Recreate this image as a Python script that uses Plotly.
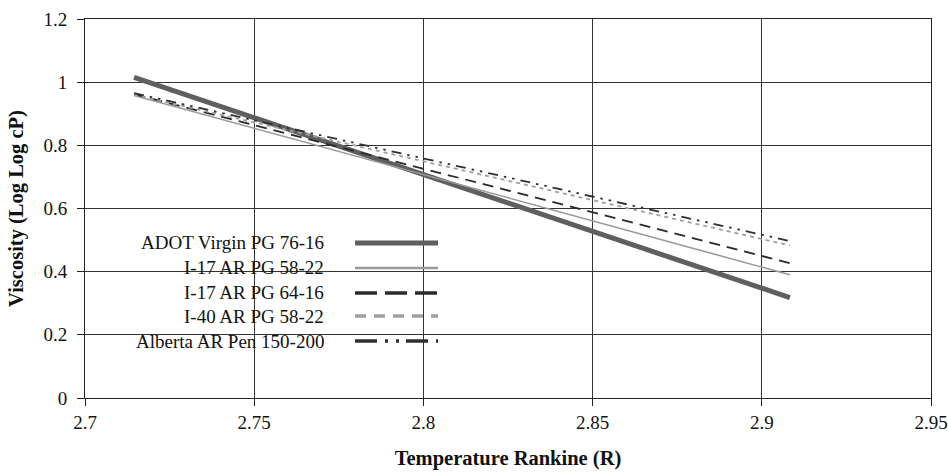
import plotly.graph_objects as go

# Temperature axis: log10 of Rankine temperature at the two ends of each fitted line
log_temp_rankine = [2.7145, 2.9083]

series_names = [
    "ADOT Virgin PG 76-16",
    "I-17 AR PG 58-22",
    "I-17 AR PG 64-16",
    "I-40 AR PG 58-22",
    "Alberta AR Pen 150-200",
]

# Viscosity (log log cP) at the two temperatures
adot_virgin_pg_76_16 = [1.015, 0.318]
i17_ar_pg_58_22 = [0.958, 0.390]
i17_ar_pg_64_16 = [0.962, 0.427]
i40_ar_pg_58_22 = [0.960, 0.483]
alberta_ar_pen_150_200 = [0.965, 0.497]

series_values = [
    adot_virgin_pg_76_16,
    i17_ar_pg_58_22,
    i17_ar_pg_64_16,
    i40_ar_pg_58_22,
    alberta_ar_pen_150_200,
]

x_ticks = [2.7, 2.75, 2.8, 2.85, 2.9, 2.95]
y_ticks = [0, 0.2, 0.4, 0.6, 0.8, 1.0, 1.2]

# line styles in the plot and in the hand-built key
plot_styles = [
    dict(color="#5f5f5f", width=5, dash="solid"),
    dict(color="#9a9a9a", width=1.6, dash="solid"),
    dict(color="#2a2a2a", width=1.8, dash="11px,7px"),
    dict(color="#a0a0a0", width=1.8, dash="4px,4px"),
    dict(color="#303030", width=1.8, dash="10px,6px,2.5px,6px,2.5px,6px"),
]
key_styles = [
    dict(color="#5f5f5f", width=5, dash="solid"),
    dict(color="#9a9a9a", width=2.5, dash="solid"),
    dict(color="#2a2a2a", width=3.5, dash="22px,8px"),
    dict(color="#a0a0a0", width=3.5, dash="11px,8px"),
    dict(color="#303030", width=3.5, dash="22px,8px,3px,8px,3px,7px"),
]

W, H = 948, 472
ML, MR, MT, MB = 85, 17, 19, 74
PW, PH = W - ML - MR, H - MT - MB
FONT = "Liberation Serif"


def paper_x(px):
    return (px - ML) / PW


def paper_y(py):
    return (H - MB - py) / PH


fig = go.Figure()
for name, vals, st in zip(series_names, series_values, plot_styles):
    fig.add_trace(
        go.Scatter(
            x=log_temp_rankine, y=vals, mode="lines", name=name,
            line=dict(color=st["color"], width=st["width"], dash=st["dash"]),
            showlegend=False,
        )
    )

shapes = [
    # white panel behind the key, covering the grid
    dict(
        type="rect", xref="paper", yref="paper", layer="between",
        x0=paper_x(112), x1=paper_x(348), y0=paper_y(358), y1=paper_y(231),
        fillcolor="white", line=dict(width=0),
    )
]
annotations = []
key_rows = [243, 268, 293, 316, 341]
text_rows = [242, 267, 292, 316, 341]
for name, st, ry, ty in zip(series_names, key_styles, key_rows, text_rows):
    shapes.append(
        dict(
            type="line", xref="paper", yref="paper", layer="above",
            x0=paper_x(355), x1=paper_x(438), y0=paper_y(ry), y1=paper_y(ry),
            line=dict(color=st["color"], width=st["width"], dash=st["dash"]),
        )
    )
    annotations.append(
        dict(
            text=name, xref="paper", yref="paper", x=paper_x(326), y=paper_y(ty),
            xanchor="right", yanchor="middle", showarrow=False,
            font=dict(family=FONT, size=19, color="#111"),
        )
    )

axis_common = dict(
    showline=True, linecolor="#222", linewidth=1, mirror=True,
    showgrid=True, gridcolor="#333", gridwidth=1,
    ticks="outside", ticklen=7, tickcolor="#222",
    zeroline=False, automargin=False,
    tickfont=dict(family=FONT, size=19, color="#111"),
)

fig.update_layout(
    width=W, height=H, autosize=False,
    margin=dict(l=ML, r=MR, t=MT, b=MB),
    paper_bgcolor="white", plot_bgcolor="white",
    shapes=shapes, annotations=annotations,
    xaxis=dict(
        axis_common, range=[2.7, 2.95], tickvals=x_ticks,
        ticktext=[f"{v:g}" for v in x_ticks],
        title=dict(text="<b>Temperature Rankine (R)</b>", standoff=18,
                   font=dict(family=FONT, size=20.5, color="#111")),
    ),
    yaxis=dict(
        axis_common, range=[0, 1.2], tickvals=y_ticks,
        ticktext=[f"{v:g}" for v in y_ticks],
        ticklabelstandoff=6,
        title=dict(text="<b>Viscosity (Log Log cP)</b>", standoff=14,
                   font=dict(family=FONT, size=20.5, color="#111")),
    ),
)

fig.write_html("out.html", config={"responsive": False})
